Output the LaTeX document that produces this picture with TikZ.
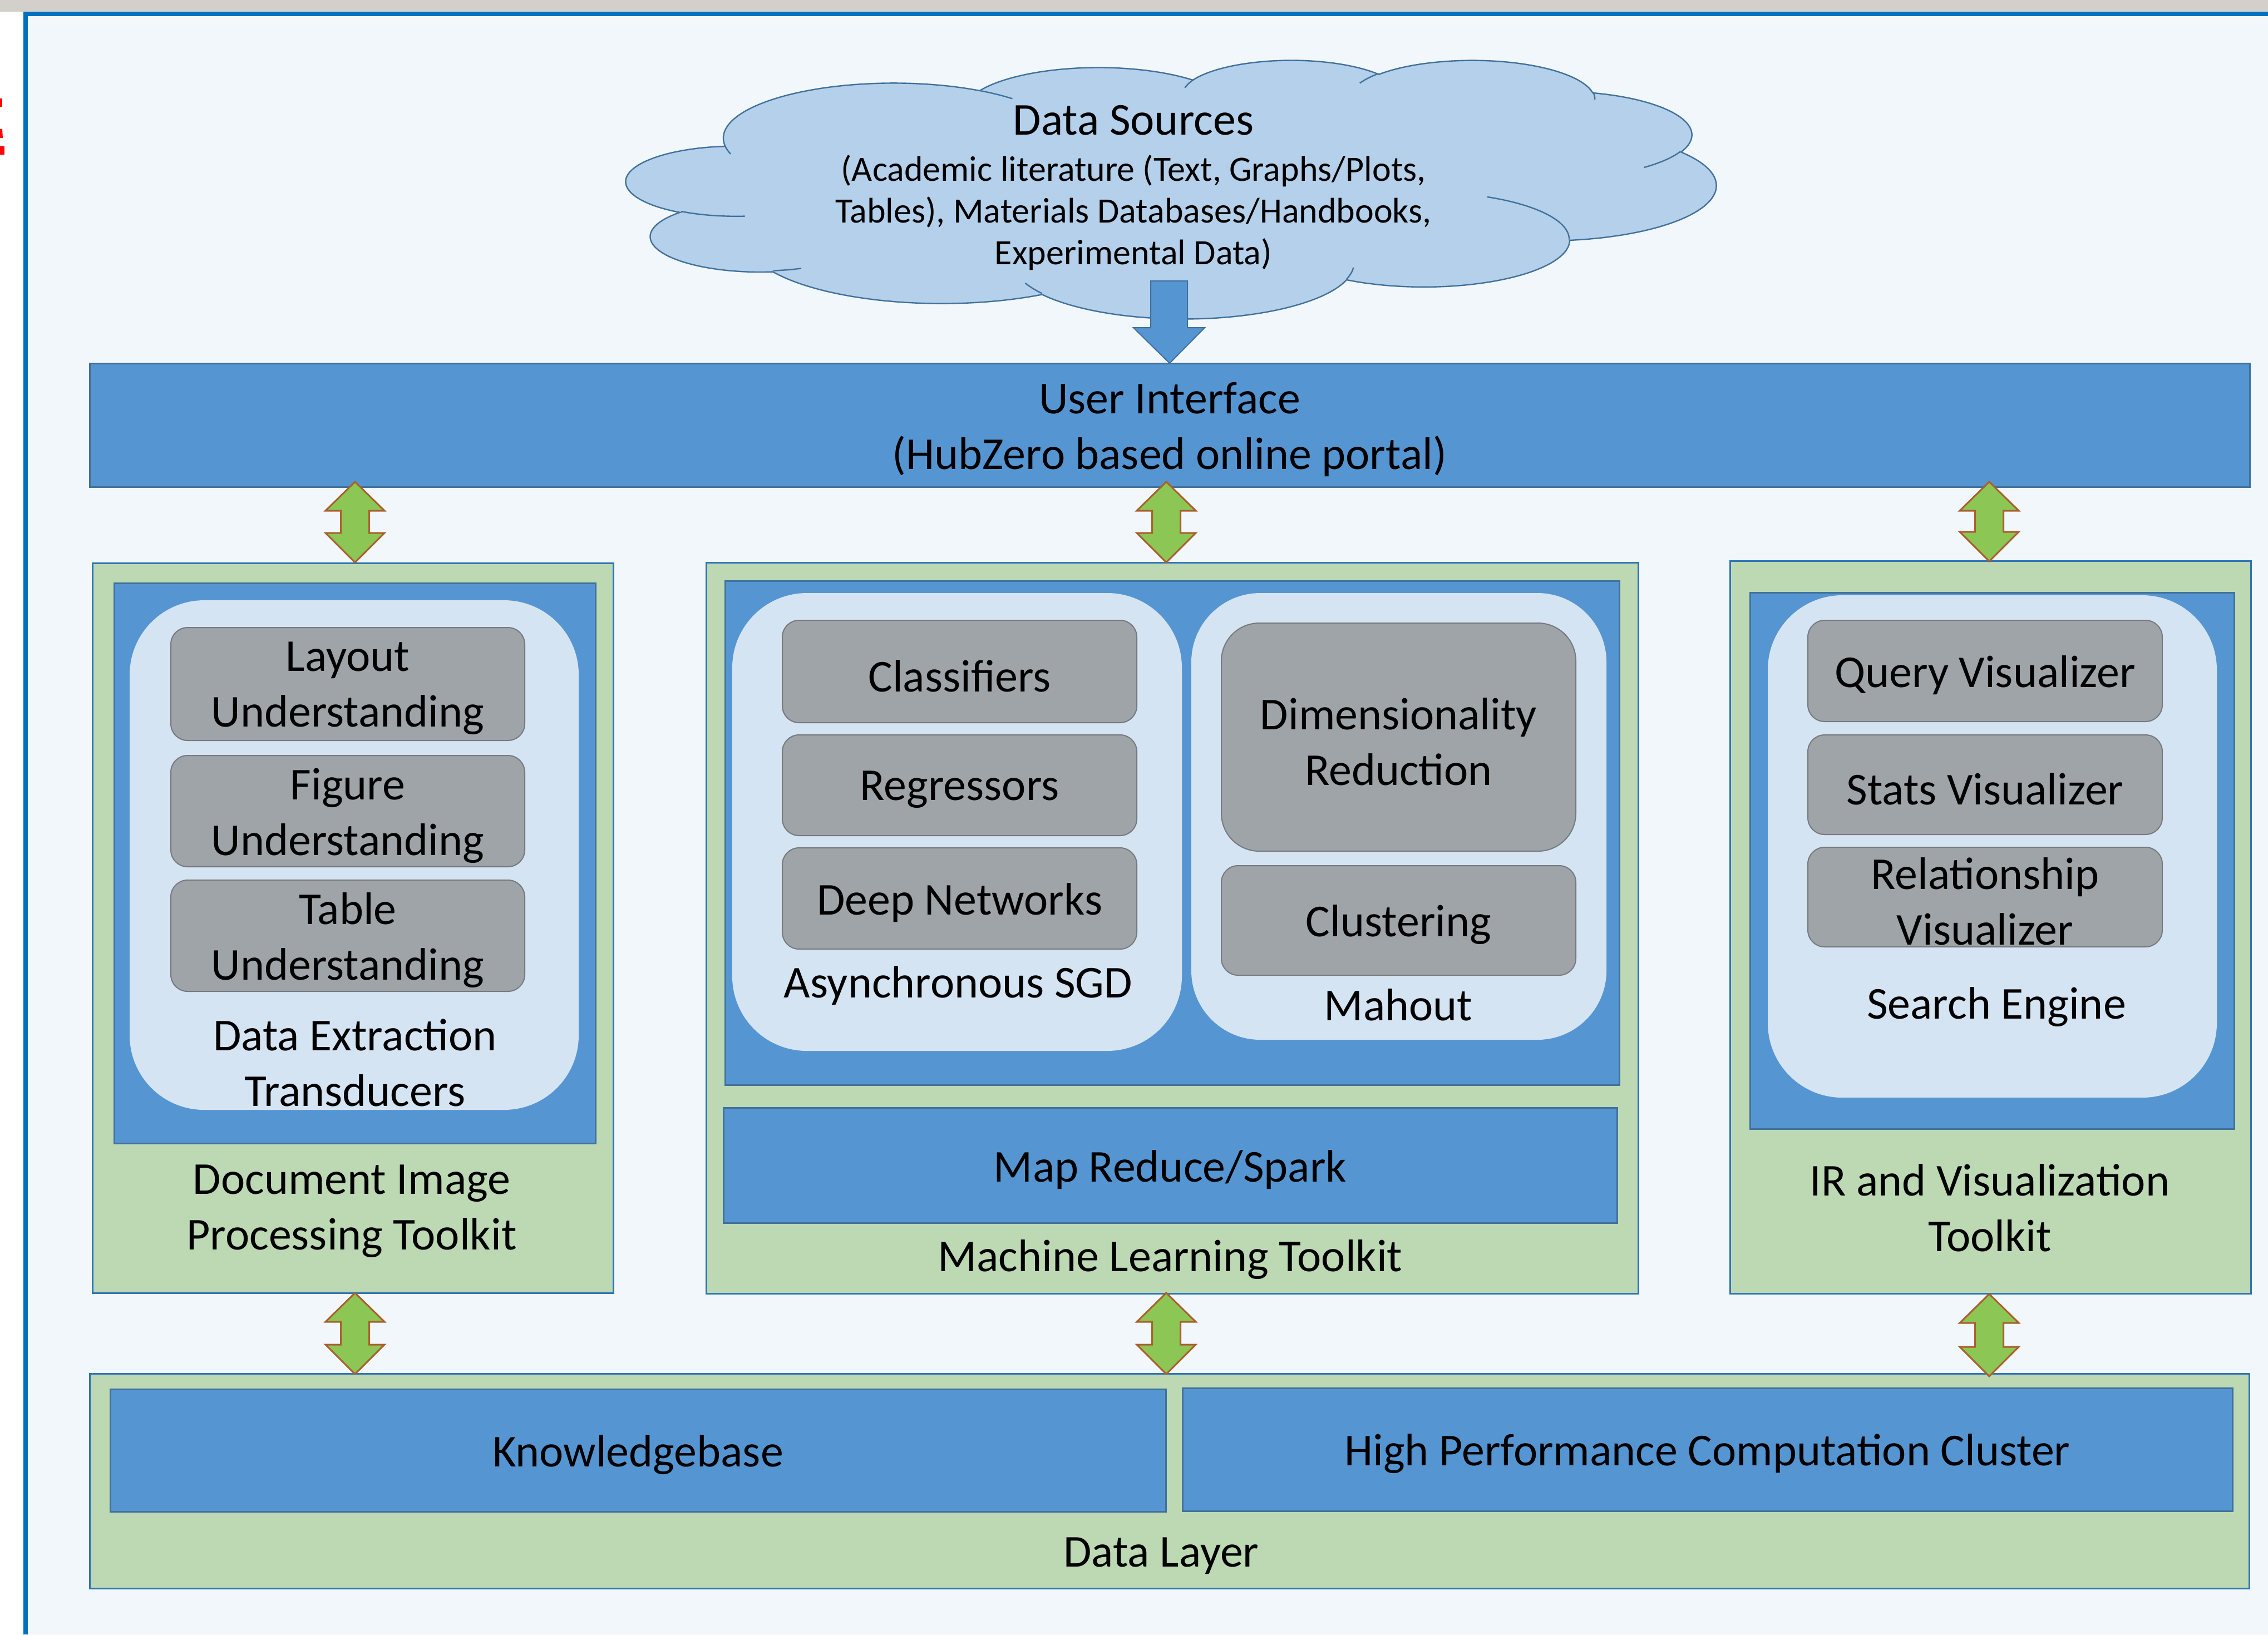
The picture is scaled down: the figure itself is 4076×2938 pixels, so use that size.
\documentclass[tikz,border=0pt]{standalone}
\usepackage{fontspec}
\setmainfont{Carlito}
\usetikzlibrary{fit}

\definecolor{topgrey}{RGB}{211,208,203}
\definecolor{framebg}{RGB}{242,247,252}
\definecolor{frameblue}{RGB}{0,112,192}
\definecolor{barblue}{RGB}{85,150,210}
\definecolor{barline}{RGB}{65,113,156}
\definecolor{toolgreen}{RGB}{188,217,180}
\definecolor{toolline}{RGB}{46,117,182}
\definecolor{paleblue}{RGB}{213,228,243}
\definecolor{modgrey}{RGB}{159,164,168}
\definecolor{modline}{RGB}{118,122,126}
\definecolor{cloudfill}{RGB}{180,208,234}
\definecolor{arrowgreen}{RGB}{140,198,84}
\definecolor{arrowline}{RGB}{170,95,45}

% converts a DrawingML arc (visual angles) into parametric start/end angles
\newcommand\cldconv[6]{% \S \E wR hR stAng swAng
  \pgfmathsetmacro\tmpS{atan2(sin(#5)*#3, cos(#5)*#4)}%
  \pgfmathsetmacro\tmpE{atan2(sin(#5+#6)*#3, cos(#5+#6)*#4)}%
  \pgfmathsetmacro\tmpE{\tmpS + mod(\tmpE - \tmpS + 720, 360)}%
  \xdef#1{\tmpS}\xdef#2{\tmpE}}

% vertical two-headed block arrow: x, top y, bottom y
\newcommand\updown[3]{%
  \draw[dblarrow] (#1,#2) -- (#1+53,#2+52) -- (#1+25.5,#2+52) -- (#1+25.5,#3-53)
    -- (#1+53,#3-53) -- (#1,#3) -- (#1-53,#3-53) -- (#1-25.5,#3-53)
    -- (#1-25.5,#2+52) -- (#1-53,#2+52) -- cycle;}

% box with its text centred in it: style, name, x1, y1, x2, y2, text
\newcommand\labelbox[7]{%
  \node[#1, fit={(#3,#4)(#5,#6)}] (#2) {};
  \node[yshift=-2pt] (#2-text) at (#2.center) {#7};}

\begin{document}
\begin{tikzpicture}[x=0.25pt,y=-0.25pt,
  font=\fontsize{20.5}{25}\selectfont,
  every node/.style={inner sep=0pt, outer sep=0pt, align=center, text=black},
  toolbox/.style={draw=toolline, line width=0.75pt, fill=toolgreen},
  bluebox/.style={draw=barline, line width=0.75pt, fill=barblue},
  palebox/.style={fill=paleblue, rounded corners=#1},
  palebox/.default=33.5pt,
  modbox/.style={draw=modline, line width=0.5pt, fill=modgrey, rounded corners=#1},
  modbox/.default=7.5pt,
  dblarrow/.style={fill=arrowgreen, draw=arrowline, line width=0.75pt, line join=miter},
  downarrow/.style={fill=barblue, draw=barline, line width=0.5pt},
  cloudline/.style={draw=barline, line width=0.6pt}]

\useasboundingbox (0,0) rectangle (4076,2938);

% page frame
\fill[topgrey] (0,0) rectangle (4076,21);
\fill[white] (0,21) rectangle (42,2938);
\fill[framebg] (50,29) rectangle (4076,2938);
\fill[frameblue] (42,21) rectangle (4076,29);
\fill[frameblue] (42,21) rectangle (50,2938);
\fill[red] (0,177) rectangle (4,192);
\fill[red] (0,232) -- (4,232) -- (5,248) -- (0,248) -- cycle;
\fill[red] (0,263) rectangle (8,278);

% cloud outline (43200 x 43200 design units)
\cldconv\cSa\cEa{6753}{9190}{-190.487}{123.781}
\cldconv\cSb\cEb{5333}{7267}{-144.102}{89.945}
\cldconv\cSc\cEc{4365}{5945}{-145.808}{99.723}
\cldconv\cSd\cEd{4857}{6595}{-130.986}{117.242}
\cldconv\cSe\cEe{5333}{7273}{-78.709}{109.027}
\cldconv\cSf\cEf{6775}{9220}{-46.267}{130.269}
\cldconv\cSg\cEg{5785}{7867}{0.625}{114.033}
\cldconv\cSh\cEh{6752}{9215}{22.452}{115.173}
\cldconv\cSi\cEi{7720}{10543}{66.243}{75.711}
\cldconv\cSj\cEj{4360}{5918}{-274.942}{146.736}
\cldconv\cSk\cEk{4345}{5945}{-246.829}{152.519}
% inner puff lines
\cldconv\iSa\iEa{4345}{5945}{86.742}{26.430}
\cldconv\iSb\iEb{4360}{5918}{73.610}{11.448}
\cldconv\iSc\iEc{6752}{9215}{137.624}{14.081}
\cldconv\iSd\iEd{6752}{9215}{6.453}{15.998}
\cldconv\iSe\iEe{5785}{7867}{-70.292}{70.917}
\cldconv\iSf\iEf{5333}{7273}{30.318}{27.752}
\cldconv\iSg\iEg{4857}{6595}{-13.744}{14.859}
\cldconv\iSh\iEh{4857}{6595}{-149.181}{18.195}
\cldconv\iSi\iEi{4365}{5945}{-163.494}{17.686}
\cldconv\iSj\iEj{6753}{9190}{-66.707}{12.319}
\cldconv\iSk\iEk{6753}{9190}{157.654}{11.858}

\begin{scope}[shift={(1126,107)}, xscale=0.045324, yscale=0.010764]
  \path[fill=cloudfill, cloudline] (3900,14370)
    arc[start angle=\cSa, end angle=\cEa, x radius=6753, y radius=9190]
    arc[start angle=\cSb, end angle=\cEb, x radius=5333, y radius=7267]
    arc[start angle=\cSc, end angle=\cEc, x radius=4365, y radius=5945]
    arc[start angle=\cSd, end angle=\cEd, x radius=4857, y radius=6595]
    arc[start angle=\cSe, end angle=\cEe, x radius=5333, y radius=7273]
    arc[start angle=\cSf, end angle=\cEf, x radius=6775, y radius=9220]
    arc[start angle=\cSg, end angle=\cEg, x radius=5785, y radius=7867]
    arc[start angle=\cSh, end angle=\cEh, x radius=6752, y radius=9215]
    arc[start angle=\cSi, end angle=\cEi, x radius=7720, y radius=10543]
    arc[start angle=\cSj, end angle=\cEj, x radius=4360, y radius=5918]
    arc[start angle=\cSk, end angle=\cEk, x radius=4345, y radius=5945]
    -- cycle;
  \path[cloudline]
    (4693,26177) arc[start angle=\iSa, end angle=\iEa, x radius=4345, y radius=5945]
    (6928,34899) arc[start angle=\iSb, end angle=\iEb, x radius=4360, y radius=5918]
    (16478,39090) arc[start angle=\iSc, end angle=\iEc, x radius=6752, y radius=9215]
    (28827,34751) arc[start angle=\iSd, end angle=\iEd, x radius=6752, y radius=9215]
    (34129,22954) arc[start angle=\iSe, end angle=\iEe, x radius=5785, y radius=7867]
    (41798,15354) arc[start angle=\iSf, end angle=\iEf, x radius=5333, y radius=7273]
    (38324,5426) arc[start angle=\iSg, end angle=\iEg, x radius=4857, y radius=6595]
    (29078,3952) arc[start angle=\iSh, end angle=\iEh, x radius=4857, y radius=6595]
    (22141,4720) arc[start angle=\iSi, end angle=\iEi, x radius=4365, y radius=5945]
    (14000,5192) arc[start angle=\iSj, end angle=\iEj, x radius=6753, y radius=9190]
    (4127,15789) arc[start angle=\iSk, end angle=\iEk, x radius=6753, y radius=9190];
\end{scope}

\node (dsrc) at (2037,216) {Data Sources};
\node[font=\fontsize{16}{18.75}\selectfont] (dsub) at (2037,382)
  {(Academic literature (Text, Graphs/Plots,\\Tables), Materials Databases/Handbooks,\\Experimental Data)};

% user interface
\labelbox{bluebox}{ui}{161}{653}{4043}{875}{User Interface\\(HubZero based online portal)}

% document image processing toolkit
\node[toolbox, fit={(166,1012)(1102,2324)}] (dip) {};
\node[bluebox, fit={(205,1048)(1070,2055)}] (dipin) {};
\node[palebox, fit={(233,1079)(1040,1995)}] (det) {};
\labelbox{modbox}{layout}{307}{1128}{943}{1331}{Layout\\Understanding}
\labelbox{modbox}{figure}{307}{1358}{943}{1558}{Figure\\Understanding}
\labelbox{modbox}{table}{307}{1582}{943}{1782}{Table\\Understanding}
\node (detlab) at (638,1910) {Data Extraction\\Transducers};
\node (diplab) at (632,2177) {Document Image\\Processing Toolkit};

% machine learning toolkit
\node[toolbox, fit={(1269,1011)(2944,2325)}] (ml) {};
\node[bluebox, fit={(1303,1044)(2910,1950)}] (mlin) {};
\node[palebox, fit={(1316,1066)(2124,1889)}] (sgd) {};
\node[palebox=31pt, fit={(2141,1066)(2887,1869)}] (mahout) {};
\labelbox{modbox}{classif}{1406}{1115}{2043}{1299}{Classifiers}
\labelbox{modbox}{regress}{1406}{1321}{2043}{1502}{Regressors}
\labelbox{modbox}{deep}{1406}{1524}{2043}{1706}{Deep Networks}
\labelbox{modbox=17pt}{dimred}{2195}{1120}{2832}{1530}{Dimensionality\\Reduction}
\labelbox{modbox}{cluster}{2195}{1556}{2832}{1753}{Clustering}
\node (sgdlab) at (1722,1772) {Asynchronous SGD};
\node (mahoutlab) at (2513,1806) {Mahout};
\labelbox{bluebox}{mapred}{1300}{1991}{2906}{2198}{Map Reduce/Spark}
\node (mllab) at (2103,2264) {Machine Learning Toolkit};

% IR and visualization toolkit
\node[toolbox, fit={(3109,1008)(4045,2325)}] (ir) {};
\node[bluebox, fit={(3145,1065)(4015,2029)}] (irin) {};
\node[palebox, fit={(3177,1070)(3984,1973)}] (search) {};
\labelbox{modbox}{query}{3249}{1115}{3886}{1297}{Query Visualizer}
\labelbox{modbox}{stats}{3249}{1321}{3886}{1500}{Stats Visualizer}
\labelbox{modbox}{relat}{3249}{1523}{3886}{1702}{Relationship\\Visualizer}
\node (searchlab) at (3588,1810) {Search Engine};
\node (irlab) at (3576,2171) {IR and Visualization\\Toolkit};

% data layer
\node[toolbox, fit={(161,2469)(4042,2855)}] (data) {};
\labelbox{bluebox}{kb}{198}{2497}{2095}{2717}{Knowledgebase}
\labelbox{bluebox}{hpc}{2125}{2495}{4012}{2716}{High Performance Computation Cluster}
\node (datalab) at (2087,2797) {Data Layer};

% data sources feed the portal
\path[downarrow] (ui.north) -- ++(63,-64) -- ++(-31,0) -- ++(0,-84) -- ++(-66,0)
  -- ++(0,84) -- ++(-31,0) -- cycle;

% two-way links between the layers
\updown{638}{866}{1011}
\updown{2096}{866}{1011}
\updown{3575}{866}{1009}
\updown{638}{2324}{2470}
\updown{2096}{2324}{2470}
\updown{3575}{2326}{2474}
\end{tikzpicture}
\end{document}
